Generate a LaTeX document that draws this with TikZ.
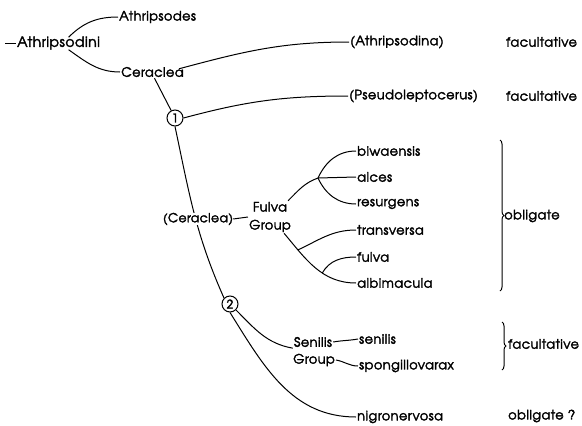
\documentclass[tikz,border=0pt]{standalone}
\usepackage{fontspec}
\setmainfont{texgyreadventor-regular.otf}[LetterSpace=3, RawFeature={embolden=2.4}]
\usepackage{tikz}
\usetikzlibrary{positioning,calc,decorations.pathreplacing}

\begin{document}
\begin{tikzpicture}[
    x=1pt, y=-1pt,
    taxon/.style={inner sep=1pt, font=\fontsize{13}{13}\selectfont},
    grp/.style={taxon, align=center, font=\fontsize{13}{18}\selectfont},
    knot/.style={circle, draw, line width=1pt, inner sep=0pt, minimum size=16pt, font=\fontsize{12}{12}\selectfont},
    branch/.style={line width=1pt, black},
    bracket/.style={line width=1pt, decorate, decoration={brace, amplitude=4pt}}
]
\useasboundingbox (0,0) rectangle (582,426);

% upper part of the tree
\coordinate (root) at (5,43);
\node[taxon, anchor=west, font=\fontsize{14}{14}\selectfont] (tribe) at (16,43) {Athripsodini};
\node[taxon, anchor=west] (athripsodes) at (118,17) {Athripsodes};
\node[taxon, anchor=west] (ceraclea) at (120,72) {Ceraclea};
\node[taxon, anchor=west] (athripsodina) at (349,42) {(Athripsodina)};
\node[taxon, anchor=west] (pseudo) at (348,96) {(Pseudoleptocerus)};
\node[taxon, anchor=west] (fac1) at (505,42) {facultative};
\node[taxon, anchor=west] (fac2) at (505,96) {facultative};
\node[knot] (c1) at (175,118) {1};
\node[knot] (c2) at (230,304) {2};

\draw[branch] (root) -- (tribe.west);
\draw[branch] ([xshift=10pt,yshift=-2pt]tribe.north) to[out=45,in=180] (athripsodes.west);
\draw[branch] ([xshift=10pt,yshift=1pt]tribe.south) to[out=-35,in=180] (ceraclea.west);
\draw[branch] ([xshift=-6pt,yshift=-3pt]ceraclea.north east) to[out=15,in=180] (athripsodina.west);
\draw[branch] ([xshift=2pt]ceraclea.south) -- (c1);
\draw[branch] (c1.east) to[out=15,in=180] (pseudo.west);
\draw[branch] (c1.south) to[out=-78,in=114] (c2.north west);

% Fulva group
\node[taxon, fill=white, inner sep=0pt, font=\fontsize{12.5}{13}\selectfont] (cerlab) at (198,219) {(Ceraclea)};
\node[grp] (fulva) at (270,217) {Fulva\\Group};
\coordinate (j1) at (318,178);
\node[taxon, anchor=west] (biwaensis) at (356,151) {biwaensis};
\node[taxon, anchor=west] (alces) at (356,177) {alces};
\node[taxon, anchor=west] (resurgens) at (356,204) {resurgens};
\node[taxon, anchor=west] (transversa) at (356,230) {transversa};
\node[taxon, anchor=west] (fulvasp) at (356,257) {fulva};
\node[taxon, anchor=west] (albimacula) at (356,283) {albimacula};
\node[taxon, anchor=west] (obligate) at (503,216) {obligate};

\draw[branch] (cerlab.east) -- (fulva.west);
\draw[branch] ([xshift=-4pt]fulva.north east) to[out=45,in=200] (j1);
\draw[branch] (j1) to[out=65,in=180] (biwaensis.west);
\draw[branch] (j1) -- (alces.west);
\draw[branch] (j1) to[out=-65,in=180] (resurgens.west);
\draw[branch] ([xshift=-8pt]fulva.south east) to[out=-50,in=180]
    coordinate[pos=0.22] (j2) coordinate[pos=0.6] (j3) (albimacula.west);
\draw[branch] (j2) to[out=25,in=180] (transversa.west);
\draw[branch] (j3) to[out=60,in=180] (fulvasp.west);
\draw[bracket] (500,140) -- (500,291);

% Senilis group
\node[taxon] (sen1) at (313,342) {Senilis};
\node[taxon] (sen2) at (314,360) {Group};
\node[taxon, anchor=west] (senilis) at (358,339) {senilis};
\node[taxon, anchor=west] (spongi) at (358,366) {spongillovarax};
\node[taxon, anchor=west] (nigro) at (356,417) {nigronervosa};
\node[taxon, anchor=west] (fac3) at (507,344) {facultative};
\node[taxon, anchor=west] (obl2) at (507,416) {obligate ?};

\draw[branch] (c2.south east) to[out=-45,in=170] (sen1.south west);
\draw[branch] (c2.south) to[out=-58,in=180] (nigro.west);
\draw[branch] (sen1.east) to[out=10,in=190] (senilis.west);
\draw[branch] (sen2.east) to[out=-10,in=180] (spongi.west);
\draw[bracket] (502,322) -- (502,370);
\end{tikzpicture}
\end{document}
